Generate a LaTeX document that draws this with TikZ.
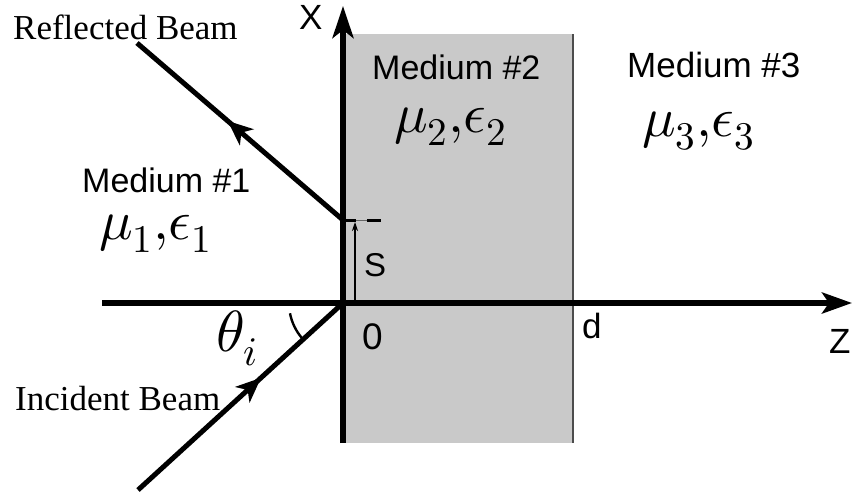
\documentclass[tikz,border=0pt]{standalone}
\usepackage{fontspec}
\usepackage{unicode-math}
\setmainfont{Liberation Serif}
\setsansfont{Liberation Sans}
\setmathfont{Latin Modern Math}
\usetikzlibrary{arrows.meta,decorations.markings}
\newcommand\myfs[1]{\fontsize{#1}{#1}\selectfont}
\tikzset{
  axisline/.style={line width=5.5pt, -{Stealth[length=30pt,width=21pt,inset=7pt]}},
  beam/.style={line width=5pt, postaction={decorate},
    decoration={markings, mark=at position #1 with {\arrow{Stealth[length=25pt,width=21pt,inset=7pt]}}}},
  lbl/.style={inner sep=0pt, anchor=base west},
  serif/.style={lbl, font=\rmfamily\myfs{35}},
  sans/.style={lbl, font=\sffamily\myfs{#1}},
  mathlbl/.style={lbl, font=\myfs{#1}},
  slab/.style={fill=black!21, draw=none},
}
\begin{document}
\begin{tikzpicture}[x=1pt,y=-1pt]
\useasboundingbox (0,0) rectangle (852,498);
% coordinates
\coordinate (O) at (343,303);
\coordinate (Xbot) at (343,443);
\coordinate (Xtop) at (343,6);
\coordinate (Zl) at (102,303);
\coordinate (Zr) at (852,303);
\coordinate (R) at (343,220);
\coordinate (Rend) at (137,43);
\coordinate (Istart) at (138,490);
\coordinate (Ta) at (343,34);
\coordinate (Tb) at (573,34);
\coordinate (Bb) at (573,443);
% slab (medium 2)
\fill[slab] (Ta) rectangle (Bb);
\draw[line width=1.2pt, black!70] (Tb) -- (Bb);
% axes
\draw[line width=5.5pt, -{Stealth[length=32pt,width=21pt,inset=8pt]}] (Xbot) -- (Xtop);
\draw[axisline] (Zl) -- (Zr);
% beams
\draw[beam=0.6] (Istart) -- (O);
\draw[beam=0.56] (R) -- (Rend);
% S marker
\coordinate (Sa) at (356,220);
\coordinate (Sb) at (367,220);
\coordinate (Sc) at (381,220);
\coordinate (Sbase) at (355,303);
\coordinate (Stip) at (355,222);
\draw[line width=3pt] (R) -- (Sa);
\draw[line width=0.8pt, black!60] (Sa) -- (Sb);
\draw[line width=3pt] (Sb) -- (Sc);
\draw[line width=1.1pt, -{Stealth[length=9pt,width=6pt]}] (Sbase) -- (Stip);
% angle arc
\draw[line width=2.4pt] (O) ++(169:54) arc[start angle=169, end angle=139, radius=54];
% labels
\node[serif] (refl) at (13,39) {Reflected Beam};
\node[serif] (inc) at (15,410) {Incident Beam};
\node[sans=35] (xl) at (299,29) {X};
\node[sans=35] (zl) at (829,353) {Z};
\node[sans=34] (m1) at (82,192) {Medium \#1};
\node[sans=34] (m2) at (372,79) {Medium \#2};
\node[sans=35] (m3) at (627,77) {Medium \#3};
\node[mathlbl=56] (p1) at (99,239) {$\mu_1{,}\epsilon_1$};
\node[mathlbl=56] (p2) at (394,132) {$\mu_2{,}\epsilon_2$};
\node[mathlbl=56] (p3) at (642,136) {$\mu_3{,}\epsilon_3$};
\node[mathlbl=58] (th) at (216,351) {$\theta_i$};
\node[sans=37] (zero) at (362,349) {0};
\node[sans=35] (dl) at (582,338) {d};
\node[sans=33] (sl) at (364,276) {S};
\end{tikzpicture}
\end{document}
